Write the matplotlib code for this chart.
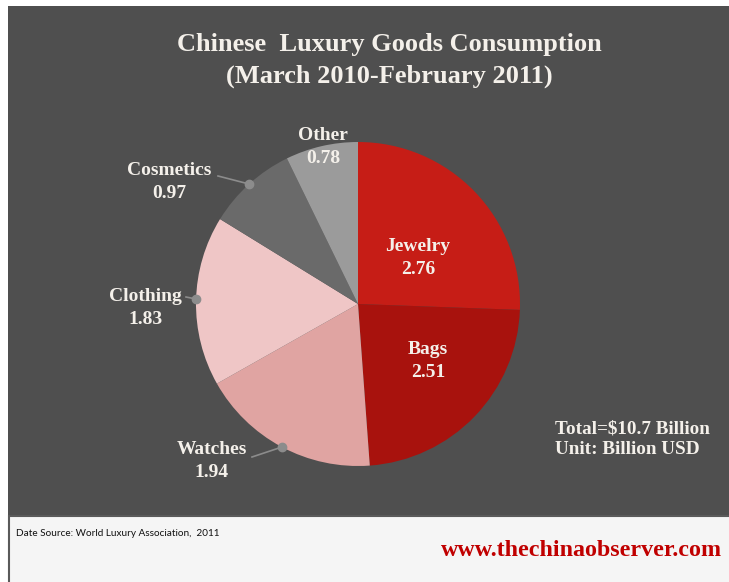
import matplotlib.pyplot as plt
from matplotlib.patches import Rectangle

# data
categories = ["Jewelry", "Bags", "Watches", "Clothing", "Cosmetics", "Other"]
values = [2.76, 2.51, 1.94, 1.83, 0.97, 0.78]
colors = ["#c61d16", "#a8120d", "#e0a4a2", "#efc6c6", "#6a6a6a", "#9b9b9b"]
total_text = "Total=$10.7 Billion\nUnit: Billion USD"

W, H = 729, 582
BG = "#4f4f4f"
TXT = "#f4f0ea"
SERIF = "Liberation Serif"

fig = plt.figure(figsize=(W / 100, H / 100), dpi=100)
fig.patch.set_facecolor("white")

# background axes in pixel coordinates
bg = fig.add_axes([0, 0, 1, 1])
bg.set_xlim(0, W)
bg.set_ylim(H, 0)
bg.axis("off")
bg.add_patch(Rectangle((8, 6), W, 510, facecolor=BG, edgecolor="none"))
bg.add_patch(Rectangle((9, 516), W + 20, 80, facecolor="#f5f5f5", edgecolor="#5a5a5a", lw=1.5))

bg.text(389, 44, "Chinese  Luxury Goods Consumption", ha="center", va="center",
        color=TXT, fontsize=19, fontweight="bold", family=SERIF)
bg.text(389, 76, "(March 2010-February 2011)", ha="center", va="center",
        color=TXT, fontsize=19, fontweight="bold", family=SERIF)
bg.text(555, 439, total_text, ha="left", va="center", color=TXT,
        fontsize=13.8, fontweight="bold", family=SERIF, linespacing=1.3)
bg.text(16, 533, "Date Source: World Luxury Association,  2011", ha="left", va="center",
        color="#111111", fontsize=7.2, family="Lato")
bg.text(722, 551, "www.thechinaobserver.com", ha="right", va="center",
        color="#c00000", fontsize=17.3, fontweight="bold", family=SERIF)

# pie axes: centre (358, 304) px, radius 162 px
cx, cy, r = 358, 304, 162
ax = fig.add_axes([(cx - r) / W, (H - cy - r) / H, 2 * r / W, 2 * r / H])
ax.set_facecolor("none")
wedges, _ = ax.pie(values, colors=colors, startangle=90, counterclock=False,
                   wedgeprops=dict(linewidth=0))
ax.set_xlim(-1, 1)
ax.set_ylim(-1, 1)
ax.set_aspect("equal")


def pu(px, py):
    # pixel -> pie units
    return (px - cx) / r, (cy - py) / r


lab_kw = dict(ha="center", va="center", color=TXT, fontsize=14,
              fontweight="bold", family=SERIF, linespacing=1.4)

# inside labels
for name, val, pos in [("Jewelry", values[0], (418, 258)), ("Bags", values[1], (428, 361))]:
    ax.text(*pu(*pos), f"{name}\n{val:.2f}", **lab_kw)

# Other label straddles the rim
ax.text(*pu(323, 147), f"{categories[5]}\n{values[5]:.2f}", **lab_kw)

# outside labels with leader lines and dots
outside = [(2, (212, 461), (252, 457), (282, 447)),
           (3, (145, 308), (186, 297), (196, 299)),
           (4, (169, 182), (218, 176), (249, 184))]
for i, tpos, lstart, dot in outside:
    ax.text(*pu(*tpos), f"{categories[i]}\n{values[i]:.2f}", **lab_kw)
    x0, y0 = pu(*lstart)
    x1, y1 = pu(*dot)
    ax.plot([x0, x1], [y0, y1], color="#8c8c8c", lw=1.2, clip_on=False)
    ax.plot(x1, y1, "o", color="#8c8c8c", ms=6, clip_on=False, zorder=5)

fig.savefig("out.png", dpi=100, facecolor=fig.get_facecolor())
